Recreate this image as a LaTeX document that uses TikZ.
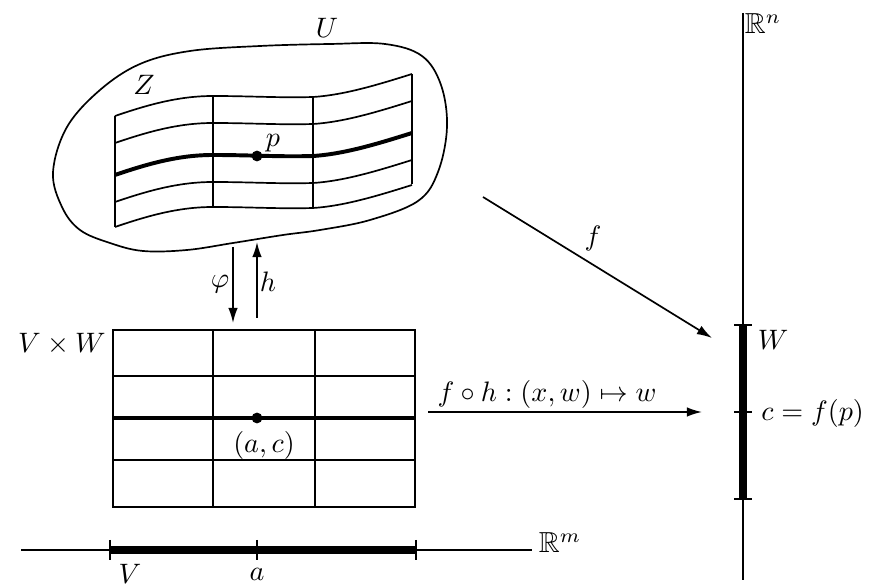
\documentclass[tikz,border=0pt]{standalone}
\usepackage{amsmath,amssymb}
\usetikzlibrary{arrows.meta}

\begin{document}
\begin{tikzpicture}[x=0.0125cm,y=-0.0125cm,
      linea/.style={line width=0.6pt,black},
      gruesa/.style={line width=1.4pt,black},
      banda/.style={line width=2.6pt,black},
      flecha/.style={-{Latex[length=1.9mm,width=1.2mm]},line width=0.6pt},
      rotulo/.style={font=\fontsize{10.3}{12}\selectfont,inner sep=1pt},
      punto/.style={circle,fill=black,inner sep=0pt,minimum size=1.35mm}]
    \useasboundingbox (0,0) rectangle (874,587);
    % el abierto U
    \draw[linea] plot[smooth cycle,tension=0.6] coordinates {
      (53,172) (67,127) (100,90) (140,64) (190,51) (260,46) (330,44) (385,44)
      (422,56) (441,85) (447,127) (438,172) (418,201) (370,220) (320,230)
      (283,235) (233,243) (187,250) (143,251) (110,243) (80,230) (62,207)};
    \node[rotulo] (U) at (327,28) {$U$};
    % la superficie Z
    \foreach \xv/\ya/\yb in {115/116/227,213/97/207,313/98/207,412/74/184}
      \draw[linea] (\xv,\ya) -- (\xv,\yb);
    \foreach \yy/\est in {116/linea,143/linea,175/gruesa,202/linea,227/linea}
      \draw[\est] (115,\yy) .. controls (150,{\yy-12}) and (180,{\yy-20}) .. (213,{\yy-20})
        .. controls (250,{\yy-20}) and (280,{\yy-18}) .. (313,{\yy-19})
        .. controls (345,{\yy-21}) and (380,{\yy-32}) .. (412,{\yy-42});
    \node[rotulo] (Z) at (144,85) {$Z$};
    \node[punto] (p) at (257,156) {};
    \node[rotulo] (lp) at (273,143) {$p$};
    % el producto V x W
    \draw[linea] (113,330) rectangle (415,507);
    \draw[linea] (213,330) -- (213,507);
    \draw[linea] (315,330) -- (315,507);
    \draw[linea] (113,376) -- (415,376);
    \draw[gruesa] (113,418) -- (415,418);
    \draw[linea] (113,460) -- (415,460);
    \node[rotulo,anchor=east] (VW) at (109,344) {$V\times W$};
    \node[punto] (ac) at (257,418) {};
    \node[rotulo] (lac) at (264,445) {$(a,c)$};
    % flechas phi y h
    \coordinate (phi1) at (233,247);
    \coordinate (phi2) at (233,323);
    \coordinate (h1) at (257,318);
    \coordinate (h2) at (257,242);
    \draw[flecha] (phi1) -- (phi2);
    \draw[flecha] (h1) -- (h2);
    \node[rotulo] (lphi) at (220,284) {$\varphi$};
    \node[rotulo] (lh) at (268,282) {$h$};
    % el eje R^m
    \coordinate (m1) at (21,550);
    \coordinate (m2) at (532,550);
    \draw[linea] (m1) -- (m2);
    \draw[banda] (110,550) -- (416,550);
    \foreach \xt in {110,257,416}
      \draw[linea] (\xt,540) -- (\xt,560);
    \node[rotulo] (Rm) at (560,543) {$\mathbb{R}^m$};
    \node[rotulo] (V) at (130,574) {$V$};
    \node[rotulo] (a) at (257,574) {$a$};
    % el eje R^n
    \coordinate (n1) at (743,13);
    \coordinate (n2) at (743,580);
    \draw[linea] (n1) -- (n2);
    \draw[banda] (743,325) -- (743,499);
    \foreach \yt in {325,412,499}
      \draw[linea] (734,\yt) -- (752,\yt);
    \node[rotulo] (Rn) at (763,24) {$\mathbb{R}^n$};
    \node[rotulo] (W) at (773,340) {$W$};
    \node[rotulo,anchor=west] (c) at (758,413) {$c=f(p)$};
    % las aplicaciones f y f o h
    \coordinate (f1) at (483,197);
    \coordinate (f2) at (712,338);
    \draw[flecha] (f1) -- (f2);
    \node[rotulo] (lf) at (593,238) {$f$};
    \coordinate (g1) at (428,412);
    \coordinate (g2) at (702,412);
    \draw[flecha] (g1) -- (g2);
    \node[rotulo] (lg) at (547,394) {$f\circ h:(x,w)\mapsto w$};
  \end{tikzpicture}
\end{document}
